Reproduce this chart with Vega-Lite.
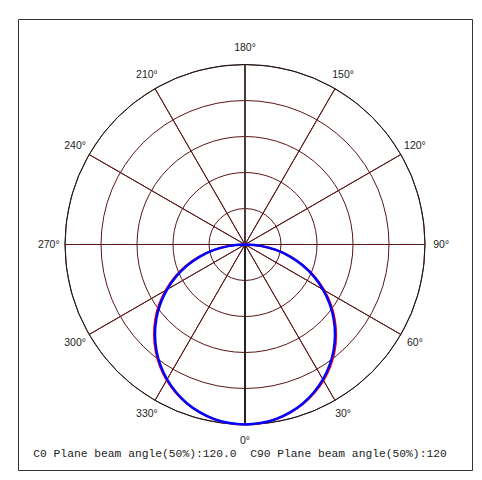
{
  "$schema": "https://vega.github.io/schema/vega-lite/v6.json",
  "width": 454,
  "height": 451,
  "autosize": {"type": "none"},
  "padding": {"left": 18, "top": 19, "right": 10, "bottom": 10},
  "background": "white",
  "config": {"view": {"stroke": "#333333", "strokeWidth": 1}},
  "title": {
    "text": "C0 Plane beam angle(50%):120.0 \u00a0C90 Plane beam angle(50%):120",
    "orient": "bottom",
    "offset": -22,
    "dx": -5,
    "font": "Liberation Mono",
    "fontSize": 11.3,
    "fontWeight": "normal",
    "color": "#222222"
  },
  "datasets": {
    "spokes": [
      {"a": 0, "a2": 30}, {"a": 30, "a2": 60}, {"a": 60, "a2": 90},
      {"a": 90, "a2": 120}, {"a": 120, "a2": 150}, {"a": 150, "a2": 180},
      {"a": 180, "a2": 210}, {"a": 210, "a2": 240}, {"a": 240, "a2": 270},
      {"a": 270, "a2": 300}, {"a": 300, "a2": 330}, {"a": 330, "a2": 360}
    ],
    "rings": [{"r": 20}, {"r": 40}, {"r": 60}, {"r": 80}],
    "axis": [{"a": 0}, {"a": 180}],
    "labels": [
      {"a": 0, "t": "0°"}, {"a": 30, "t": "30°"}, {"a": 60, "t": "60°"},
      {"a": 90, "t": "90°"}, {"a": 120, "t": "120°"}, {"a": 150, "t": "150°"},
      {"a": 180, "t": "180°"}, {"a": 210, "t": "210°"}, {"a": 240, "t": "240°"},
      {"a": 270, "t": "270°"}, {"a": 300, "t": "300°"}, {"a": 330, "t": "330°"}
    ],
    "curve": [
      {"s": "C0", "a": -90, "i": 0}, {"s": "C0", "a": -85, "i": 9.1}, {"s": "C0", "a": -80, "i": 18.0},
      {"s": "C0", "a": -75, "i": 26.7}, {"s": "C0", "a": -70, "i": 35.1}, {"s": "C0", "a": -65, "i": 43.2},
      {"s": "C0", "a": -60, "i": 51.0}, {"s": "C0", "a": -55, "i": 58.4}, {"s": "C0", "a": -50, "i": 65.2},
      {"s": "C0", "a": -45, "i": 71.5}, {"s": "C0", "a": -40, "i": 77.3}, {"s": "C0", "a": -35, "i": 82.5},
      {"s": "C0", "a": -30, "i": 87.1}, {"s": "C0", "a": -25, "i": 90.9}, {"s": "C0", "a": -20, "i": 94.2},
      {"s": "C0", "a": -15, "i": 96.7}, {"s": "C0", "a": -10, "i": 98.6}, {"s": "C0", "a": -5, "i": 99.7},
      {"s": "C0", "a": 0, "i": 100}, {"s": "C0", "a": 5, "i": 99.7}, {"s": "C0", "a": 10, "i": 98.6},
      {"s": "C0", "a": 15, "i": 96.8}, {"s": "C0", "a": 20, "i": 94.3}, {"s": "C0", "a": 25, "i": 91.1},
      {"s": "C0", "a": 30, "i": 87.3}, {"s": "C0", "a": 35, "i": 82.7}, {"s": "C0", "a": 40, "i": 77.5},
      {"s": "C0", "a": 45, "i": 71.6}, {"s": "C0", "a": 50, "i": 65.2}, {"s": "C0", "a": 55, "i": 58.3},
      {"s": "C0", "a": 60, "i": 50.9}, {"s": "C0", "a": 65, "i": 43.1}, {"s": "C0", "a": 70, "i": 34.9},
      {"s": "C0", "a": 75, "i": 26.5}, {"s": "C0", "a": 80, "i": 17.8}, {"s": "C0", "a": 85, "i": 9.0},
      {"s": "C0", "a": 90, "i": 0},
      {"s": "C90", "a": -90, "i": 0}, {"s": "C90", "a": -85, "i": 8.7}, {"s": "C90", "a": -80, "i": 17.4},
      {"s": "C90", "a": -75, "i": 25.9}, {"s": "C90", "a": -70, "i": 34.2}, {"s": "C90", "a": -65, "i": 42.3},
      {"s": "C90", "a": -60, "i": 50.0}, {"s": "C90", "a": -55, "i": 57.4}, {"s": "C90", "a": -50, "i": 64.3},
      {"s": "C90", "a": -45, "i": 70.7}, {"s": "C90", "a": -40, "i": 76.6}, {"s": "C90", "a": -35, "i": 81.9},
      {"s": "C90", "a": -30, "i": 86.6}, {"s": "C90", "a": -25, "i": 90.6}, {"s": "C90", "a": -20, "i": 94.0},
      {"s": "C90", "a": -15, "i": 96.6}, {"s": "C90", "a": -10, "i": 98.5}, {"s": "C90", "a": -5, "i": 99.6},
      {"s": "C90", "a": 0, "i": 100}, {"s": "C90", "a": 5, "i": 99.6}, {"s": "C90", "a": 10, "i": 98.5},
      {"s": "C90", "a": 15, "i": 96.6}, {"s": "C90", "a": 20, "i": 94.0}, {"s": "C90", "a": 25, "i": 90.6},
      {"s": "C90", "a": 30, "i": 86.6}, {"s": "C90", "a": 35, "i": 81.9}, {"s": "C90", "a": 40, "i": 76.6},
      {"s": "C90", "a": 45, "i": 70.7}, {"s": "C90", "a": 50, "i": 64.3}, {"s": "C90", "a": 55, "i": 57.4},
      {"s": "C90", "a": 60, "i": 50.0}, {"s": "C90", "a": 65, "i": 42.3}, {"s": "C90", "a": 70, "i": 34.2},
      {"s": "C90", "a": 75, "i": 25.9}, {"s": "C90", "a": 80, "i": 17.4}, {"s": "C90", "a": 85, "i": 8.7},
      {"s": "C90", "a": 90, "i": 0}
    ]
  },
  "layer": [
    {
      "data": {"name": "spokes"},
      "mark": {"type": "arc", "filled": false, "stroke": "#5a1616", "strokeWidth": 1},
      "encoding": {
        "theta": {"field": "a", "type": "quantitative", "stack": null,
          "scale": {"domain": [0, 360], "range": [3.14159265, -3.14159265]}},
        "theta2": {"field": "a2"},
        "radius": {"datum": 100, "type": "quantitative", "stack": null,
          "scale": {"type": "linear", "domain": [0, 100], "range": [0, 180], "zero": true}}
      }
    },
    {
      "data": {"name": "rings"},
      "mark": {"type": "arc", "filled": false, "stroke": "#5a1616", "strokeWidth": 1},
      "encoding": {
        "theta": {"datum": 0, "type": "quantitative", "stack": null,
          "scale": {"domain": [0, 360], "range": [3.14159265, -3.14159265]}},
        "theta2": {"datum": 360},
        "radius": {"field": "r", "type": "quantitative", "stack": null,
          "scale": {"type": "linear", "domain": [0, 100], "range": [0, 180], "zero": true}}
      }
    },
    {
      "data": {"name": "axis"},
      "mark": {"type": "arc", "filled": false, "stroke": "#4e3a3a", "strokeWidth": 2},
      "encoding": {
        "theta": {"field": "a", "type": "quantitative", "stack": null,
          "scale": {"domain": [0, 360], "range": [3.14159265, -3.14159265]}},
        "theta2": {"field": "a"},
        "radius": {"datum": 100, "type": "quantitative", "stack": null,
          "scale": {"type": "linear", "domain": [0, 100], "range": [0, 180], "zero": true}}
      }
    },
    {
      "data": {"values": [{"r": 100}]},
      "mark": {"type": "arc", "filled": false, "stroke": "#1a1a1a", "strokeWidth": 1},
      "encoding": {
        "theta": {"datum": 0, "type": "quantitative", "stack": null,
          "scale": {"domain": [0, 360], "range": [3.14159265, -3.14159265]}},
        "theta2": {"datum": 360},
        "radius": {"field": "r", "type": "quantitative", "stack": null,
          "scale": {"type": "linear", "domain": [0, 100], "range": [0, 180], "zero": true}}
      }
    },
    {
      "data": {"name": "labels"},
      "mark": {"type": "text", "font": "Liberation Sans", "fontSize": 10.5, "color": "#222222", "align": "center", "baseline": "middle"},
      "encoding": {
        "theta": {"field": "a", "type": "quantitative", "stack": null,
          "scale": {"domain": [0, 360], "range": [3.14159265, -3.14159265]}},
        "radius": {"datum": 109, "type": "quantitative", "stack": null,
          "scale": {"type": "linear", "domain": [0, 100], "range": [0, 180], "zero": true}},
        "text": {"field": "t"}
      }
    },
    {
      "data": {"name": "curve"},
      "transform": [
        {"filter": "datum.s === 'C0'"},
        {"calculate": "datum.i * sin(datum.a * PI / 180)", "as": "px"},
        {"calculate": "-datum.i * cos(datum.a * PI / 180)", "as": "py"}
      ],
      "mark": {"type": "line", "strokeWidth": 2, "interpolate": "catmull-rom"},
      "encoding": {
        "x": {"field": "px", "type": "quantitative", "axis": null,
          "scale": {"domain": [-126.111, 126.111], "nice": false, "zero": false}},
        "y": {"field": "py", "type": "quantitative", "axis": null,
          "scale": {"domain": [-125.278, 125.278], "nice": false, "zero": false}},
        "order": {"field": "a", "type": "quantitative"},
        "color": {"field": "s", "type": "nominal", "legend": null,
          "scale": {"domain": ["C0", "C90"], "range": ["#ff0000", "#0000ff"]}}
      }
    },
    {
      "data": {"name": "curve"},
      "transform": [
        {"filter": "datum.s === 'C90'"},
        {"calculate": "datum.i * sin(datum.a * PI / 180)", "as": "px"},
        {"calculate": "-datum.i * cos(datum.a * PI / 180)", "as": "py"}
      ],
      "mark": {"type": "line", "strokeWidth": 2.5, "interpolate": "catmull-rom"},
      "encoding": {
        "x": {"field": "px", "type": "quantitative", "axis": null,
          "scale": {"domain": [-126.111, 126.111], "nice": false, "zero": false}},
        "y": {"field": "py", "type": "quantitative", "axis": null,
          "scale": {"domain": [-125.278, 125.278], "nice": false, "zero": false}},
        "order": {"field": "a", "type": "quantitative"},
        "color": {"field": "s", "type": "nominal", "legend": null,
          "scale": {"domain": ["C0", "C90"], "range": ["#ff0000", "#0000ff"]}}
      }
    }
  ]
}
